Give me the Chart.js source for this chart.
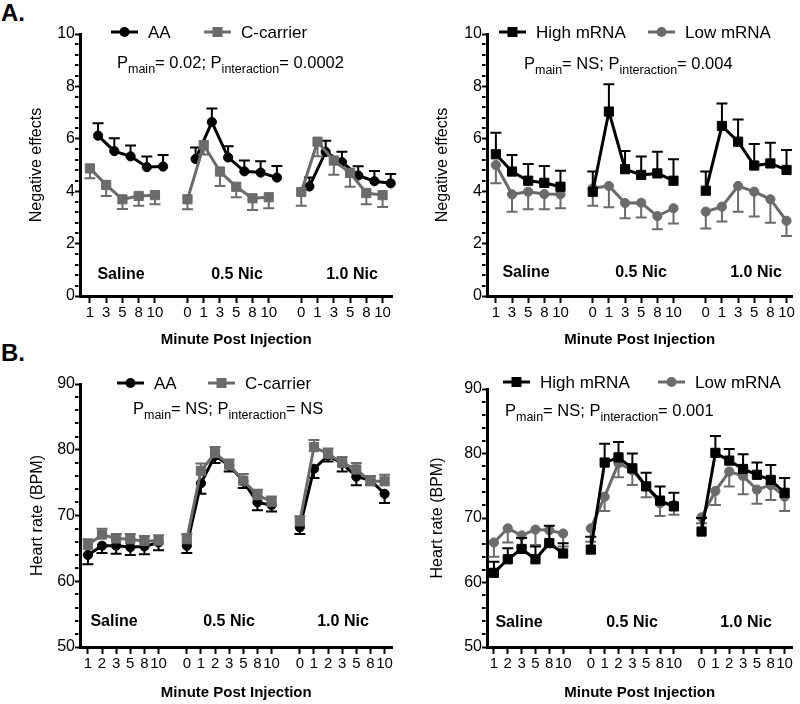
<!DOCTYPE html>
<html>
<head>
<meta charset="utf-8">
<script src="https://cdn.jsdelivr.net/npm/chart.js@4.4.1/dist/chart.umd.min.js"></script>
<style>
  html, body { margin: 0; padding: 0; background: #fff; }
  body { width: 800px; height: 704px; position: relative; overflow: hidden;
         font-family: 'Liberation Sans', Arial, Helvetica, sans-serif; }
  canvas { position: absolute; }
  .tag { position: absolute; font-weight: bold; font-size: 24px; line-height: 1; }
</style>
</head>
<body>
<div class="tag" style="left:1px;top:1px">A.</div>
<div class="tag" style="left:1px;top:341px">B.</div>
<canvas id="negGeno" width="400" height="352" style="left:0;top:0"></canvas>
<canvas id="negMrna" width="400" height="352" style="left:400px;top:0"></canvas>
<canvas id="hrGeno" width="400" height="364" style="left:0;top:340px"></canvas>
<canvas id="hrMrna" width="400" height="364" style="left:400px;top:340px"></canvas>
<script>
const FONT = "'Liberation Sans', Arial, Helvetica, sans-serif";
const GRAY = '#6b6b6b';

// minutes sampled in each dose condition
const doses = ['Saline', '0.5 Nic', '1.0 Nic'];
const negMinutes = [[1, 3, 5, 8, 10], [0, 1, 3, 5, 8, 10], [0, 1, 3, 5, 8, 10]];
const hrMinutes = [[1, 2, 3, 5, 8, 10], [0, 1, 2, 3, 5, 8, 10], [0, 1, 2, 3, 5, 8, 10]];

// negative effects (mean, SEM)
const aaNeg      = [6.12, 5.53, 5.33, 4.92, 4.94, 5.23, 6.64, 5.29, 4.76, 4.71, 4.52, 4.18, 5.50, 5.11, 4.60, 4.38, 4.30];
const aaNegSem   = [0.47, 0.49, 0.41, 0.40, 0.44, 0.44, 0.52, 0.43, 0.41, 0.43, 0.44, 0.34, 0.43, 0.40, 0.35, 0.39, 0.36];
const ccNeg      = [4.87, 4.24, 3.69, 3.82, 3.85, 3.69, 5.76, 4.75, 4.17, 3.73, 3.77, 3.97, 5.89, 5.17, 4.70, 3.93, 3.85];
const ccNegSem   = [0.38, 0.42, 0.37, 0.38, 0.35, 0.38, 0.36, 0.55, 0.40, 0.45, 0.42, 0.53, 0.56, 0.54, 0.53, 0.43, 0.45];
const highNeg    = [5.41, 4.75, 4.40, 4.32, 4.17, 3.98, 7.04, 4.84, 4.62, 4.68, 4.40, 4.02, 6.49, 5.89, 4.98, 5.06, 4.81];
const highNegSem = [0.82, 0.63, 0.64, 0.64, 0.61, 0.77, 1.04, 0.69, 0.70, 0.83, 0.82, 0.73, 0.86, 0.85, 0.82, 0.79, 0.76];
const lowNeg     = [5.00, 3.88, 3.98, 3.89, 3.88, 4.11, 4.20, 3.55, 3.56, 3.05, 3.35, 3.22, 3.41, 4.20, 3.98, 3.69, 2.87];
const lowNegSem  = [0.70, 0.66, 0.67, 0.58, 0.53, 0.67, 0.81, 0.58, 0.56, 0.50, 0.58, 0.64, 0.57, 0.98, 0.95, 0.89, 0.58];

// heart rate (mean, SEM)
const aaHr      = [64.0, 65.4, 65.4, 65.2, 65.3, 65.9, 65.4, 74.9, 79.1, 77.6, 75.2, 72.0, 71.6, 68.2, 77.1, 79.1, 77.9, 75.9, 75.4, 73.3];
const aaHrSem   = [1.4, 1.1, 1.2, 1.2, 1.2, 1.2, 1.1, 1.6, 1.1, 0.9, 1.0, 1.2, 1.0, 1.0, 1.4, 0.9, 1.2, 1.3, 0.7, 1.4];
const ccHr      = [65.5, 67.1, 66.5, 66.4, 66.1, 66.2, 66.4, 76.8, 79.5, 77.7, 75.3, 73.1, 72.1, 69.1, 80.4, 79.4, 78.0, 77.0, 75.2, 75.2];
const ccHrSem   = [0.9, 0.9, 0.7, 0.8, 0.8, 0.8, 0.8, 1.1, 0.9, 0.8, 1.0, 0.8, 0.8, 0.8, 1.1, 0.8, 0.9, 1.0, 0.8, 1.0];
const highHr    = [61.5, 63.6, 65.2, 63.6, 66.1, 64.5, 65.1, 78.6, 79.4, 77.7, 74.9, 72.7, 71.8, 67.9, 80.1, 78.9, 77.6, 76.7, 75.9, 73.9];
const highHrSem = [1.7, 1.7, 1.7, 2.0, 2.7, 1.6, 2.0, 2.9, 2.4, 2.3, 2.1, 2.2, 2.1, 2.1, 2.6, 1.8, 2.3, 1.9, 2.3, 2.3];
const lowHr     = [66.2, 68.4, 67.3, 68.2, 68.1, 67.6, 68.4, 73.3, 78.5, 77.4, 74.9, 72.3, 72.0, 70.1, 74.2, 77.2, 76.5, 74.4, 75.1, 73.3];
const lowHrSem  = [2.2, 2.2, 1.8, 2.4, 2.4, 2.0, 2.1, 2.2, 2.2, 2.3, 1.7, 2.0, 1.5, 0.9, 2.2, 2.3, 2.8, 2.2, 2.3, 2.2];

// p values printed on each panel
const pNegGeno = ['0.02', '0.0002'];
const pNegMrna = ['NS', '0.004'];
const pHrGeno = ['NS', 'NS'];
const pHrMrna = ['NS', '0.001'];

Chart.defaults.font.family = FONT;
Chart.defaults.color = '#000';

// slot index for each time point, one empty slot between dose groups
function slotsFor(minutes) {
  const out = [];
  let s = 0;
  minutes.forEach(grp => { grp.forEach(() => out.push(s++)); s++; });
  return out;
}

function toPoints(values, sem, minutes, shift) {
  const slots = slotsFor(minutes);
  const pts = [];
  let k = 0;
  minutes.forEach((grp, g) => {
    if (g > 0) pts.push({ x: slots[k] - 1 + shift, y: null });
    grp.forEach(() => {
      pts.push({ x: slots[k] + shift, y: values[k], e: sem[k] });
      k++;
    });
  });
  return pts;
}

function series(label, values, sem, minutes, color, marker, dir, shift, order) {
  return {
    label: label,
    data: toPoints(values, sem, minutes, shift),
    borderColor: color,
    backgroundColor: color,
    borderWidth: 3,
    pointStyle: marker,
    pointRadius: marker === 'rect' ? 6.5 : 4.6,
    pointBorderWidth: 1,
    pointHoverRadius: 0,
    errDir: dir,
    order: order,
    clip: false,
    tension: 0
  };
}

function drawMarker(ctx, marker, x, y, color) {
  ctx.fillStyle = color;
  if (marker === 'rect') {
    ctx.fillRect(x - 5, y - 5, 10, 10);
  } else {
    ctx.beginPath();
    ctx.arc(x, y, 5, 0, Math.PI * 2);
    ctx.fill();
  }
}

function decorPlugin(decor) {
  return {
    id: 'panelDecor',
    beforeDatasetDraw(chart, args) {
      const ds = chart.data.datasets[args.index];
      const ys = chart.scales.y;
      const ctx = chart.ctx;
      ctx.save();
      ctx.strokeStyle = ds.borderColor;
      ctx.lineWidth = 2;
      ds.data.forEach((p, j) => {
        if (p.y == null) return;
        const el = args.meta.data[j];
        const yEnd = ys.getPixelForValue(p.y + ds.errDir * p.e);
        ctx.beginPath();
        ctx.moveTo(el.x, el.y);
        ctx.lineTo(el.x, yEnd);
        ctx.moveTo(el.x - 5.5, yEnd);
        ctx.lineTo(el.x + 5.5, yEnd);
        ctx.stroke();
      });
      ctx.restore();
    },
    afterDraw(chart) {
      const ctx = chart.ctx;
      const ys = chart.scales.y;
      const left = chart.chartArea.left;
      ctx.save();
      // minor ticks on y axis
      ctx.strokeStyle = '#000';
      ctx.lineWidth = 2;
      const minor = decor.major / 5;
      for (let i = 0; i <= Math.round((ys.max - ys.min) / minor); i++) {
        if (i % 5 === 0) continue;
        const py = Math.round(ys.getPixelForValue(ys.min + i * minor));
        ctx.beginPath();
        ctx.moveTo(left - 1.5, py);
        ctx.lineTo(left - 5, py);
        ctx.stroke();
      }
      // dose group labels
      ctx.fillStyle = '#000';
      ctx.font = 'bold 16px ' + FONT;
      ctx.textAlign = 'center';
      ctx.textBaseline = 'middle';
      doses.forEach((d, i) => ctx.fillText(d, decor.groupX[i], decor.groupY));
      // legend: line with marker, then label
      ctx.textAlign = 'left';
      ctx.font = '17px ' + FONT;
      chart.data.datasets.forEach((ds, i) => {
        const x1 = decor.legendX[i];
        ctx.strokeStyle = ds.borderColor;
        ctx.lineWidth = 3;
        ctx.beginPath();
        ctx.moveTo(x1, decor.legendY);
        ctx.lineTo(x1 + 27, decor.legendY);
        ctx.stroke();
        drawMarker(ctx, ds.pointStyle, x1 + 13.5, decor.legendY, ds.borderColor);
        ctx.fillStyle = '#000';
        ctx.fillText(ds.label, x1 + 37, decor.legendY + 1);
      });
      // P values with subscripts
      const parts = [
        ['P', false], ['main', true], ['= ' + decor.p[0] + '; P', false],
        ['interaction', true], ['= ' + decor.p[1], false]
      ];
      let x = decor.pX;
      ctx.textBaseline = 'alphabetic';
      parts.forEach(([t, sub]) => {
        ctx.font = (sub ? '12.5px ' : '16.5px ') + FONT;
        ctx.fillText(t, x, decor.pY + (sub ? 11 : 6));
        x += ctx.measureText(t).width;
      });
      ctx.restore();
    }
  };
}

function makePanel(id, datasets, minutes, tickLabels, lay, yCfg, decor) {
  const canvas = document.getElementById(id);
  const W = canvas.width, H = canvas.height;
  const slots = slotsFor(minutes);
  return new Chart(canvas, {
    type: 'line',
    data: { datasets: datasets },
    options: {
      responsive: false,
      animation: false,
      events: [],
      layout: { padding: { top: lay.top, right: W - lay.right, left: 0, bottom: 0 } },
      plugins: { legend: { display: false }, tooltip: { enabled: false } },
      scales: {
        x: {
          type: 'linear',
          min: lay.xMin,
          max: lay.xMax,
          afterFit: s => { s.height = H - lay.bottom; },
          afterBuildTicks: s => { s.ticks = slots.map(v => ({ value: v })); },
          ticks: {
            autoSkip: false,
            maxRotation: 0,
            padding: 1,
            font: { size: 15 },
            color: '#000',
            callback: (v, i) => tickLabels[i]
          },
          grid: { drawOnChartArea: false, tickLength: 7, tickWidth: 2, tickColor: '#000' },
          border: { width: 3, color: '#000' },
          title: {
            display: true,
            text: 'Minute Post Injection',
            font: { size: 15, weight: 'bold' },
            color: '#000',
            padding: { top: 0, bottom: lay.xTitlePad }
          }
        },
        y: {
          min: yCfg.min,
          max: yCfg.max,
          afterFit: s => { s.width = lay.left; },
          ticks: { stepSize: yCfg.step, padding: 0, font: { size: 16 }, color: '#000' },
          grid: { drawOnChartArea: false, tickLength: 5, tickWidth: 2, tickColor: '#000' },
          border: { width: 3, color: '#000' },
          title: {
            display: true,
            text: yCfg.title,
            font: { size: 16 },
            color: '#000',
            padding: { top: lay.yTitlePad, bottom: 0 }
          }
        }
      }
    },
    plugins: [decorPlugin(decor)]
  });
}

const negTicks = negMinutes.flat().map(String);
const hrTicks = hrMinutes.flat().map(String);

makePanel('negGeno', [
    series('AA', aaNeg, aaNegSem, negMinutes, '#000', 'circle', 1, 0.5, 1),
    series('C-carrier', ccNeg, ccNegSem, negMinutes, GRAY, 'rect', -1, 0, 0)
  ], negMinutes, negTicks,
  { left: 80, top: 34, bottom: 296, right: 395, xMin: -0.61, xMax: 18.61, xTitlePad: 3, yTitlePad: 27 },
  { min: 0, max: 10, step: 2, title: 'Negative effects' },
  { major: 2, groupX: [121, 237, 352], groupY: 275, legendY: 32,
    legendX: [111, 204], p: pNegGeno, pX: 117, pY: 62 });

makePanel('negMrna', [
    series('High mRNA', highNeg, highNegSem, negMinutes, '#000', 'rect', 1, 0, 0),
    series('Low mRNA', lowNeg, lowNegSem, negMinutes, GRAY, 'circle', -1, 0, 1)
  ], negMinutes, negTicks,
  { left: 87, top: 34, bottom: 296, right: 398, xMin: -0.55, xMax: 18.37, xTitlePad: 3, yTitlePad: 33 },
  { min: 0, max: 10, step: 2, title: 'Negative effects' },
  { major: 2, groupX: [126, 241, 356], groupY: 273, legendY: 32,
    legendX: [99, 248], p: pNegMrna, pX: 124, pY: 63 });

makePanel('hrGeno', [
    series('AA', aaHr, aaHrSem, hrMinutes, '#000', 'circle', -1, 0, 1),
    series('C-carrier', ccHr, ccHrSem, hrMinutes, GRAY, 'rect', 1, 0, 0)
  ], hrMinutes, hrTicks,
  { left: 80, top: 44, bottom: 307, right: 395, xMin: -0.56, xMax: 21.56, xTitlePad: 2, yTitlePad: 28 },
  { min: 50, max: 90, step: 10, title: 'Heart rate (BPM)' },
  { major: 10, groupX: [114, 229, 343], groupY: 282, legendY: 43,
    legendX: [117, 208], p: pHrGeno, pX: 133, pY: 68 });

makePanel('hrMrna', [
    series('High mRNA', highHr, highHrSem, hrMinutes, '#000', 'rect', 1, 0, 0),
    series('Low mRNA', lowHr, lowHrSem, hrMinutes, GRAY, 'circle', -1, 0, 1)
  ], hrMinutes, hrTicks,
  { left: 87, top: 49, bottom: 307, right: 396, xMin: -0.5, xMax: 21.57, xTitlePad: 2, yTitlePad: 28 },
  { min: 50, max: 90, step: 10, title: 'Heart rate (BPM)' },
  { major: 10, groupX: [119, 232, 346], groupY: 283, legendY: 42,
    legendX: [103, 258], p: pHrMrna, pX: 105, pY: 70 });
</script>
</body>
</html>
